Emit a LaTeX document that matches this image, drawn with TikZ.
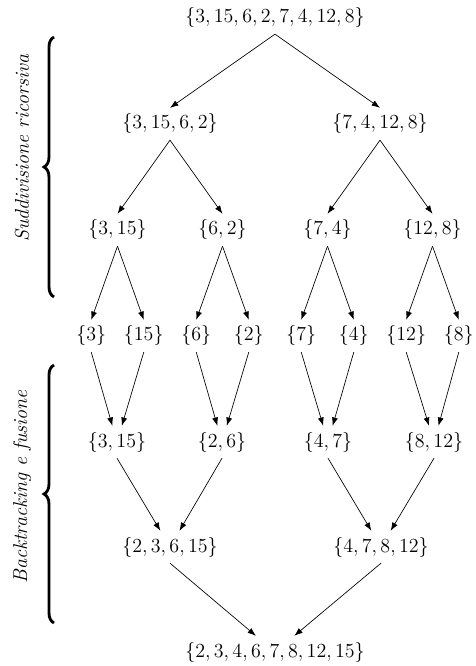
\documentclass[tikz,border=0pt]{standalone}
\usepackage{amsmath}
\usepackage{tikz}
\usetikzlibrary{decorations.pathreplacing,arrows.meta}

\begin{document}
\begin{tikzpicture}%
  [x=0.6pt,y=0.6pt,font=\large,
   level/.style={sibling distance=126pt/2^(#1-1)},
   level 1/.style={child anchor=north},
   level distance=63.6pt,
   parent anchor=south,
   edge from parent/.style={draw,-{Latex[length=5pt,width=3.6pt]}}]
  \tikzstyle{set node}=[inner sep=3.5pt]
  \tikzstyle{merge edge}=[-{Latex[length=5pt,width=3.6pt]}]
  \tikzstyle{side brace}=[decorate,decoration={brace,amplitude=6pt},line width=1.7pt]
  \tikzstyle{side label}=[rotate=90,font=\large\itshape]
  \useasboundingbox (0,0) rectangle (475,-666);
  % suddivisione
  \node(r)[set node] at (275,-18) {$\{3,15,6,2,7,4,12,8\}$}
    child{node(a)[set node]{$\{3,15,6,2\}$}
      child{node(aa)[set node]{$\{3,15\}$}
        child{node(l1)[set node]{$\{3\}$}}
        child{node(l2)[set node]{$\{15\}$}}}
      child{node(ab)[set node]{$\{6,2\}$}
        child{node(l3)[set node]{$\{6\}$}}
        child{node(l4)[set node]{$\{2\}$}}}}
    child{node(b)[set node]{$\{7,4,12,8\}$}
      child{node(ba)[set node]{$\{7,4\}$}
        child{node(l5)[set node]{$\{7\}$}}
        child{node(l6)[set node]{$\{4\}$}}}
      child{node(bb)[set node]{$\{12,8\}$}
        child{node(l7)[set node]{$\{12\}$}}
        child{node(l8)[set node]{$\{8\}$}}}
    };
  % fusione
  \node(m1)[set node] at (117,-442) {$\{3,15\}$};
  \node(m2)[set node] at (222,-442) {$\{2,6\}$};
  \node(m3)[set node] at (328,-442) {$\{4,7\}$};
  \node(m4)[set node] at (434,-442) {$\{8,12\}$};
  \node(n1)[set node] at (170,-547) {$\{2,3,6,15\}$};
  \node(n2)[set node] at (381,-547) {$\{4,7,8,12\}$};
  \node(s)[set node] at (275,-652) {$\{2,3,4,6,7,8,12,15\}$};
  \draw[merge edge] (l1.south) -- (m1);
  \draw[merge edge] (l2.south) -- (m1);
  \draw[merge edge] (l3.south) -- (m2);
  \draw[merge edge] (l4.south) -- (m2);
  \draw[merge edge] (l5.south) -- (m3);
  \draw[merge edge] (l6.south) -- (m3);
  \draw[merge edge] (l7.south) -- (m4);
  \draw[merge edge] (l8.south) -- (m4);
  \draw[merge edge] (m1.south) -- (n1);
  \draw[merge edge] (m2.south) -- (n1);
  \draw[merge edge] (m3.south) -- (n2);
  \draw[merge edge] (m4.south) -- (n2);
  \draw[merge edge] (n1.south) -- (s);
  \draw[merge edge] (n2.south) -- (s);
  % graffe
  \coordinate(t1) at (54,-297);
  \coordinate(t2) at (54,-37);
  \coordinate(u1) at (54,-623);
  \coordinate(u2) at (54,-365);
  \draw[side brace] (t1) -- (t2);
  \draw[side brace] (u1) -- (u2);
  \node(dl)[side label] at (22,-148) {Suddivisione ricorsiva};
  \node(fl)[side label] at (22,-487) {Backtracking e fusione};
\end{tikzpicture}
\end{document}
